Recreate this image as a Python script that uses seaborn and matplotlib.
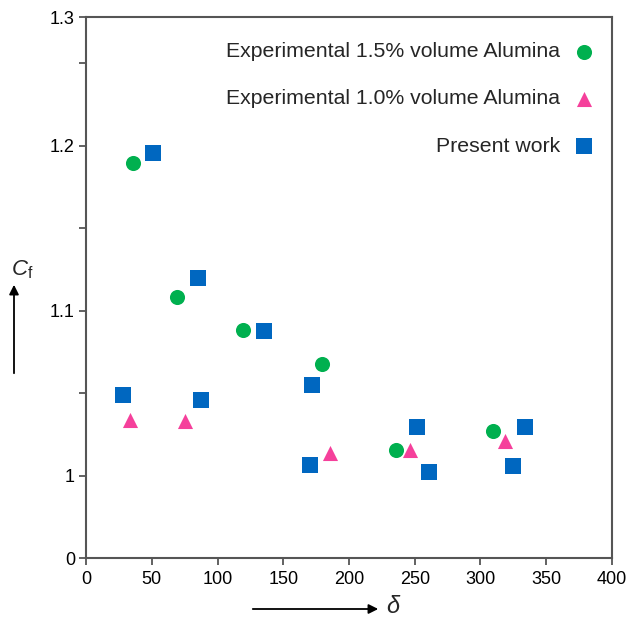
import numpy as np
import pandas as pd
import matplotlib
matplotlib.use('Agg')
import matplotlib.pyplot as plt
import seaborn as sns

# data
exp15_x = [35.6, 69.4, 119.6, 179.7, 235.5, 309.7]
exp15_y = [1.1895, 1.1083, 1.0885, 1.0677, 1.0153, 1.0268]

exp10_x = [33.5, 75.3, 185.6, 246.4, 318.6]
exp10_y = [1.0339, 1.0333, 1.0138, 1.0153, 1.0208]

present_x = [50.7, 85.4, 135.6, 28.1, 87.5, 171.6, 170.3, 251.5, 261.1, 333.8, 324.9]
present_y = [1.1956, 1.1198, 1.0877, 1.0491, 1.0456, 1.0552, 1.0062, 1.0295, 1.0020, 1.0295, 1.0056]

labels = ['Experimental 1.5% volume Alumina', 'Experimental 1.0% volume Alumina', 'Present work']
colors = ['#00b04f', '#f5409b', '#0067c0']
markers = ['o', '^', 's']

x_ticks = [0, 50, 100, 150, 200, 250, 300, 350, 400]
y_ticks = [0, 1, 1.1, 1.2, 1.278]
y_ticklabels = ['0', '1', '1.1', '1.2', '1.3']
y_minor = [1.05, 1.15, 1.25]

sns.set_style('ticks')
plt.rcParams['font.family'] = ['Liberation Sans', 'DejaVu Sans']
plt.rcParams['mathtext.fontset'] = 'custom'
plt.rcParams['mathtext.rm'] = 'Liberation Sans'
plt.rcParams['mathtext.it'] = 'Liberation Sans:italic'

fig = plt.figure(figsize=(6.26, 6.23), dpi=100)
ax = fig.add_axes([0.1374, 0.1043, 0.8402, 0.8684])

series = [(exp15_x, exp15_y), (exp10_x, exp10_y), (present_x, present_y)]
for (xs, ys), lab, c, m in zip(series, labels, colors, markers):
    df = pd.DataFrame({'x': xs, 'y': ys})
    sns.scatterplot(data=df, x='x', y='y', ax=ax, color=c, marker=m, s=118,
                    linewidth=0, label=lab)


# broken axis: 0..1 squeezed into a small band at the bottom
def fwd(y):
    y = np.asarray(y, dtype=float)
    return np.where(y < 1, 0.95 + 0.05 * y, y)


def inv(y):
    y = np.asarray(y, dtype=float)
    return np.where(y < 1, (y - 0.95) / 0.05, y)


ax.set_yscale('function', functions=(fwd, inv))
ax.set_xlim(0, 400)
ax.set_ylim(0, 1.278)
ax.set_xticks(x_ticks)
ax.set_xticklabels([str(t) for t in x_ticks])
ax.set_yticks(y_ticks)
ax.set_yticklabels(y_ticklabels)
ax.set_yticks(y_minor, minor=True)
ax.set_xlabel('')
ax.set_ylabel('')

for sp in ax.spines.values():
    sp.set_visible(True)
    sp.set_color('#555555')
    sp.set_linewidth(1.5)
ax.tick_params(axis='both', which='both', direction='out', length=5, width=1.3,
               color='#555555', labelsize=13, labelcolor='black')
ax.tick_params(axis='x', pad=4)
ax.tick_params(axis='y', pad=3)

leg = ax.legend(loc='upper right', bbox_to_anchor=(1.0, 0.985), frameon=False,
                markerfirst=False, fontsize=15.3, labelspacing=1.33,
                handletextpad=0.65, borderaxespad=0.45, handlelength=1.0, borderpad=0.35)

# axis labels with arrows, as in the reference
fig.text(22 / 626, 1 - 270 / 623, r'$C_\mathrm{f}$', fontsize=16, ha='center', va='center')
fig.add_artist(matplotlib.patches.FancyArrowPatch(
    (14 / 626, 1 - 376 / 623), (14 / 626, 1 - 282 / 623), transform=fig.transFigure,
    arrowstyle='-|>', mutation_scale=14, color='black', lw=1.3))
fig.add_artist(matplotlib.patches.FancyArrowPatch(
    (250 / 626, 1 - 609 / 623), (381 / 626, 1 - 609 / 623), transform=fig.transFigure,
    arrowstyle='-|>', mutation_scale=14, color='black', lw=1.3))
fig.text(394 / 626, 1 - 607 / 623, r'$\delta$', fontsize=17, ha='center', va='center')

fig.savefig('out.png', dpi=100)
